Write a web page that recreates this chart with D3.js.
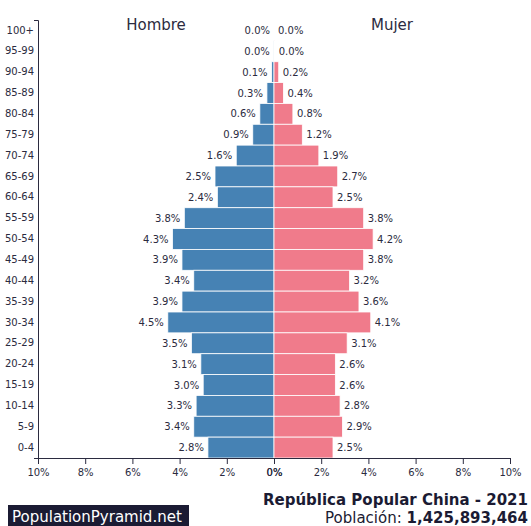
<!DOCTYPE html>
<html>
<head>
<meta charset="utf-8">
<script src="https://cdn.jsdelivr.net/npm/d3@7"></script>
<style>
  body { margin: 0; background: #fff; }
  svg { font-family: "DejaVu Sans", sans-serif; }
</style>
</head>
<body>
<div id="chart"></div>
<script>
// DATA (percent of total population)
let ageGroups = ['100+', '95-99', '90-94', '85-89', '80-84', '75-79', '70-74', '65-69', '60-64',
    '55-59', '50-54', '45-49', '40-44', '35-39', '30-34', '25-29', '20-24', '15-19', '10-14', '5-9', '0-4'];
let maleValues = [0.0, 0.01, 0.1, 0.3, 0.6, 0.9, 1.6, 2.5, 2.4,
    3.8, 4.3, 3.9, 3.4, 3.9, 4.5, 3.5, 3.1, 3.0, 3.3, 3.4, 2.8];
let femaleValues = [0.0, 0.03, 0.2, 0.4, 0.8, 1.2, 1.9, 2.7, 2.5,
    3.8, 4.2, 3.8, 3.2, 3.6, 4.1, 3.1, 2.6, 2.6, 2.8, 2.9, 2.5];
let xTicks = [0, 2, 4, 6, 8, 10];

let width = 531,
    height = 526;
let margin = {top: 20, right: 21, bottom: 68, left: 38};

let textColor = '#2b2b40';
let maleColor = '#4682b4',
    femaleColor = '#f07b8b';

let svg = d3.select('#chart')
    .append('svg')
    .attr('width', width)
    .attr('height', height);

let center = (margin.left + width - margin.right) / 2;

// Scales
let xLeft = d3.scaleLinear()
    .domain([0, 10])
    .range([center, margin.left]);
let xRight = d3.scaleLinear()
    .domain([0, 10])
    .range([center, width - margin.right]);
let y = d3.scaleBand()
    .domain(ageGroups)
    .range([margin.top, height - margin.bottom])
    .padding(0);

let rows = ageGroups.map((g, i) => ({group: g, male: maleValues[i], female: femaleValues[i]}));

// bars
svg.append('g')
    .selectAll('rect')
    .data(rows)
    .enter()
    .append('rect')
    .attr('x', d => xLeft(d.male))
    .attr('y', d => y(d.group))
    .attr('width', d => center - xLeft(d.male))
    .attr('height', y.bandwidth())
    .attr('fill', maleColor)
    .attr('stroke', '#fff')
    .attr('stroke-width', 0.8);

svg.append('g')
    .selectAll('rect')
    .data(rows)
    .enter()
    .append('rect')
    .attr('x', center)
    .attr('y', d => y(d.group))
    .attr('width', d => xRight(d.female) - center)
    .attr('height', y.bandwidth())
    .attr('fill', femaleColor)
    .attr('stroke', '#fff')
    .attr('stroke-width', 0.8);

// value labels
svg.append('g')
    .selectAll('text')
    .data(rows)
    .enter()
    .append('text')
    .attr('x', d => xLeft(d.male) - 4)
    .attr('y', d => y(d.group) + y.bandwidth() / 2)
    .attr('dy', '0.35em')
    .attr('text-anchor', 'end')
    .attr('font-size', 10)
    .attr('fill', textColor)
    .text(d => d.male.toFixed(1) + '%');

svg.append('g')
    .selectAll('text')
    .data(rows)
    .enter()
    .append('text')
    .attr('x', d => xRight(d.female) + 4)
    .attr('y', d => y(d.group) + y.bandwidth() / 2)
    .attr('dy', '0.35em')
    .attr('text-anchor', 'start')
    .attr('font-size', 10)
    .attr('fill', textColor)
    .text(d => d.female.toFixed(1) + '%');

// axes
let fmt = d => d + '%';
let xAxisLeft = svg.append('g')
    .attr('transform', `translate(0,${height - margin.bottom})`)
    .call(d3.axisBottom(xLeft).tickValues(xTicks).tickFormat(fmt).tickSizeOuter(6));
let xAxisRight = svg.append('g')
    .attr('transform', `translate(0,${height - margin.bottom})`)
    .call(d3.axisBottom(xRight).tickValues(xTicks).tickFormat(fmt).tickSizeOuter(6));
let yAxis = svg.append('g')
    .attr('transform', `translate(${margin.left},0)`)
    .call(d3.axisLeft(y).tickSize(0).tickPadding(4).tickSizeOuter(4));

[xAxisLeft, xAxisRight, yAxis].forEach(a => {
    a.selectAll('path, line').attr('stroke', textColor);
    a.selectAll('text').attr('fill', textColor).attr('font-size', 10).attr('font-family', '"DejaVu Sans", sans-serif');
});
xAxisLeft.selectAll('text').attr('dy', '0.9em');
xAxisRight.selectAll('text').attr('dy', '0.9em');

// titles
svg.append('text')
    .attr('x', 156)
    .attr('y', 30)
    .attr('text-anchor', 'middle')
    .attr('font-size', 15)
    .attr('fill', textColor)
    .text('Hombre');
svg.append('text')
    .attr('x', 392)
    .attr('y', 30)
    .attr('text-anchor', 'middle')
    .attr('font-size', 15)
    .attr('fill', textColor)
    .text('Mujer');

svg.append('text')
    .attr('x', 528)
    .attr('y', 505)
    .attr('text-anchor', 'end')
    .attr('font-size', 15)
    .attr('font-weight', 'bold')
    .attr('fill', '#1b1b33')
    .text('República Popular China - 2021');

let pop = svg.append('text')
    .attr('x', 528)
    .attr('y', 523)
    .attr('text-anchor', 'end')
    .attr('font-size', 15)
    .attr('fill', '#1b1b33');
pop.append('tspan').text('Población: ');
pop.append('tspan').attr('font-weight', 'bold').text('1,425,893,464');

// watermark
svg.append('rect')
    .attr('x', 8)
    .attr('y', 505)
    .attr('width', 181)
    .attr('height', 22)
    .attr('fill', '#1b1b33');
svg.append('text')
    .attr('x', 12)
    .attr('y', 522)
    .attr('font-size', 15)
    .attr('fill', '#fff')
    .text('PopulationPyramid.net');
</script>
</body>
</html>
